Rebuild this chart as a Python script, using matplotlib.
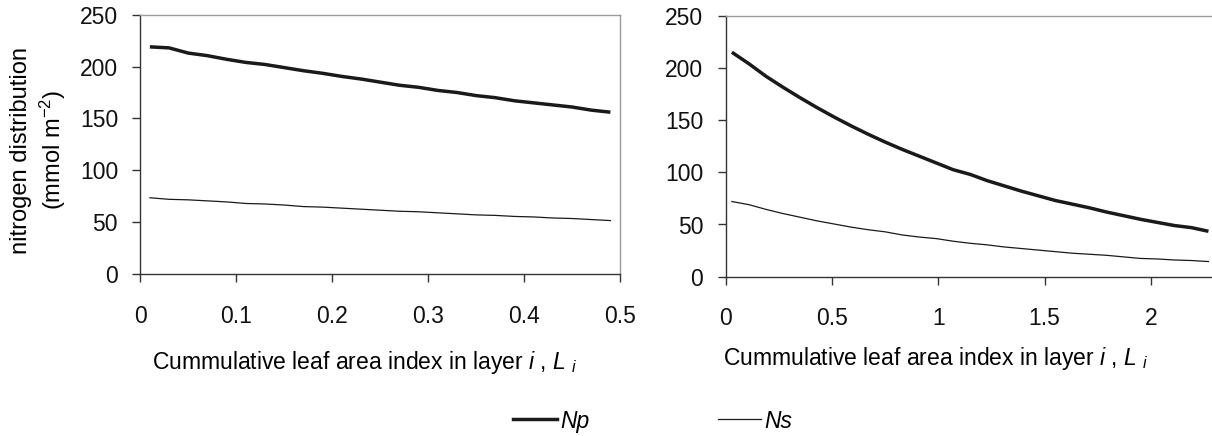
import matplotlib
matplotlib.use("Agg")
import matplotlib.pyplot as plt
from matplotlib.lines import Line2D

plt.rcParams["font.family"] = ["Liberation Sans", "DejaVu Sans"]
plt.rcParams["mathtext.fontset"] = "custom"
plt.rcParams["mathtext.rm"] = "Liberation Sans"
plt.rcParams["mathtext.it"] = "Liberation Sans:italic"

# ── data ───────────────────────────────────────────────────────
# left panel: cumulative LAI 0 – 0.5
lai_left = [0.01, 0.03, 0.05, 0.07, 0.09, 0.11, 0.13, 0.15, 0.17, 0.19,
            0.21, 0.23, 0.25, 0.27, 0.29, 0.31, 0.33, 0.35, 0.37, 0.39,
            0.41, 0.43, 0.45, 0.47, 0.49]
np_left = [219, 218, 213, 210.5, 207, 204, 202, 199, 196, 193.5,
           190.5, 188, 185, 182, 180, 177, 175, 172, 170, 167,
           165, 163, 161, 158, 156]
ns_left = [73.5, 72, 71.5, 70.5, 69.5, 68, 67.5, 66.5, 65, 64.5,
           63.5, 62.5, 61.5, 60.5, 60, 59, 58, 57, 56.5, 55.5,
           55, 54, 53.5, 52.5, 51.5]

# right panel: cumulative LAI 0 – 2.3
lai_right = [0.03, 0.11, 0.19, 0.27, 0.35, 0.43, 0.51, 0.59, 0.67, 0.75,
             0.83, 0.91, 0.99, 1.07, 1.15, 1.23, 1.31, 1.39, 1.47, 1.55,
             1.63, 1.71, 1.79, 1.87, 1.95, 2.03, 2.11, 2.19, 2.27]
np_right = [215, 204, 192, 181.5, 171.5, 162, 153, 144.5, 136.5, 129,
            122, 115.5, 109, 102.5, 98, 92, 87, 82, 77.5, 73,
            69.5, 66, 62, 58.5, 55, 52, 49, 47, 43.5]
ns_right = [72, 69, 64.5, 60.5, 57, 53.5, 50.5, 47.5, 45, 43,
            40, 38, 36.5, 34, 32, 30.5, 28.5, 27, 25.5, 24,
            22.5, 21.5, 20.5, 19, 17.5, 17, 16, 15.5, 14.5]

y_ticks = [0, 50, 100, 150, 200, 250]
x_ticks_left = [0, 0.1, 0.2, 0.3, 0.4, 0.5]
x_tick_labels_left = ["0", "0.1", "0.2", "0.3", "0.4", "0.5"]
x_ticks_right = [0, 0.5, 1, 1.5, 2]
x_tick_labels_right = ["0", "0.5", "1", "1.5", "2"]

xlabel = r"Cummulative leaf area index in layer $i$ , $L$ ${}_{i}$"
ylabel = "nitrogen distribution\n(mmol m$^{-2}$)"

LINE = "#1a1a1a"
DARK = "#333333"
LIGHT = "#9a9a9a"
FS = 16.5

W, H = 1212, 436
fig = plt.figure(figsize=(W / 100, H / 100), dpi=100)

ax_l = fig.add_axes([140.3 / W, 1 - 274 / H, 479.7 / W, 259.3 / H])
ax_r = fig.add_axes([725.5 / W, 1 - 276.7 / H, 486.5 / W, 261 / H])


def style(ax, xticks, xlabels, xmax):
    ax.set_ylim(0, 250)
    ax.set_xlim(0, xmax)
    ax.set_yticks(y_ticks)
    ax.set_xticks(xticks)
    ax.set_xticklabels(xlabels)
    ax.tick_params(axis="both", direction="out", length=6, width=1,
                   color=DARK, labelsize=FS, labelcolor="#111111")
    ax.tick_params(axis="y", pad=10)
    ax.tick_params(axis="x", pad=16)
    for s in ("left", "bottom"):
        ax.spines[s].set_color(DARK)
        ax.spines[s].set_linewidth(1.0)
    for s in ("top", "right"):
        ax.spines[s].set_color(LIGHT)
        ax.spines[s].set_linewidth(1.0)


style(ax_l, x_ticks_left, x_tick_labels_left, 0.5)
style(ax_r, x_ticks_right, x_tick_labels_right, (W - 725.5) / 212.75)
ax_r.spines["right"].set_visible(False)

ax_l.plot(lai_left, np_left, color=LINE, lw=2.5, solid_capstyle="butt")
ax_l.plot(lai_left, ns_left, color=LINE, lw=0.9)
ax_r.plot(lai_right, np_right, color=LINE, lw=2.5, solid_capstyle="butt")
ax_r.plot(lai_right, ns_right, color=LINE, lw=0.9)

# axis labels
ax_l.set_xlabel(xlabel, fontsize=FS, ha="left", va="top")
ax_l.xaxis.set_label_coords((152 - 140.3) / 479.7, (274 - 349) / 259.3)
ax_r.set_xlabel(xlabel, fontsize=FS, ha="left", va="top")
ax_r.xaxis.set_label_coords((723 - 725.5) / 486.5, (276.7 - 345) / 261)

ax_l.set_ylabel(ylabel, fontsize=17, linespacing=1.25, va="center")
ax_l.yaxis.set_label_coords((38.8 - 140.3) / 479.7, 0.478)

# legend
handles = [Line2D([], [], color=LINE, lw=2.5), Line2D([], [], color=LINE, lw=0.9)]
fig.legend(handles, ["Np", "Ns"], loc="center", ncol=2, frameon=False,
           bbox_to_anchor=(653 / W, 1 - 421 / H),
           prop={"style": "italic", "size": FS},
           handlelength=1.9, handletextpad=0.15, columnspacing=5.6)

fig.savefig("out.png", dpi=100)
